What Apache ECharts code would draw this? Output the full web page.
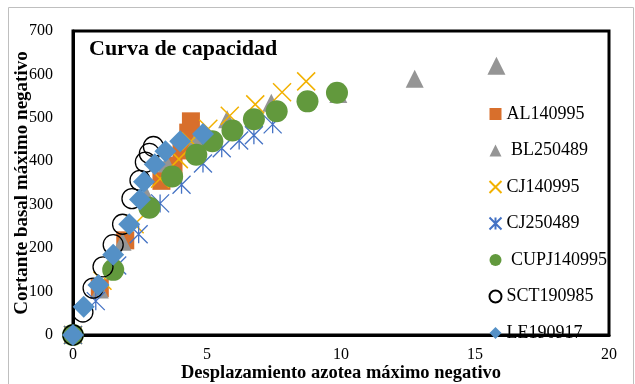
<!DOCTYPE html>
<html><head><meta charset="utf-8">
<script src="https://cdn.jsdelivr.net/npm/echarts@6/dist/echarts.min.js"></script>
<style>html,body{margin:0;padding:0;background:#fff}#c{width:635px;height:384px}</style>
</head><body><div id="c"></div>
<script>
const seriesNames = ['AL140995', ' BL250489', 'CJ140995', 'CJ250489', ' CUPJ140995', 'SCT190985', 'LE190917'];
const xTicks = [0, 5, 10, 15, 20];
const yTicks = [0, 100, 200, 300, 400, 500, 600, 700];

const AL140995 = [[0,0],[1.0,108],[1.95,218],[3.3,355],[3.75,390],[4.05,425],[4.3,466],[4.4,492]];
const BL250489 = [[0,0],[1.0,105],[1.85,215],[2.75,320],[3.5,395],[4.6,450],[5.75,497],[7.4,535],[9.9,555],[12.75,590],[15.8,620]];
const CJ140995 = [[0,0],[1.1,125],[2.3,255],[3.25,360],[3.95,405],[4.4,446],[5.05,475],[5.85,505],[6.8,531],[7.8,559],[8.7,584]];
const CJ250489 = [[0,0],[0.85,78],[1.65,160],[2.45,232],[3.25,303],[4.05,346],[4.85,395],[5.55,430],[6.2,448],[6.75,460],[7.45,485]];
const CUPJ140995 = [[0,0],[1.5,150],[2.85,293],[3.7,365],[4.6,415],[5.2,446],[5.95,471],[6.75,497],[7.6,515],[8.75,538],[9.85,558]];
const SCT190985 = [[0,0],[0.37,53],[0.75,108],[1.12,157],[1.5,208],[1.85,255],[2.2,314],[2.5,356],[2.7,398],[2.85,418],[3.0,434]];
const LE190917 = [[0,0],[0.4,65],[0.95,115],[1.5,185],[2.1,255],[2.5,312],[2.65,353],[3.05,393],[3.45,423],[4.0,446],[4.85,463]];

const FONT = '"Liberation Serif", "Times New Roman", serif';
const chart = echarts.init(document.getElementById('c'), null, {renderer: 'canvas'});

function sc(name, data, symbol, size, style) {
  style.opacity = 1;
  return { name: name, type: 'scatter', data: data, symbol: symbol, symbolSize: size, itemStyle: style, emphasis: {disabled: true} };
}

chart.setOption({
  animation: false,
  backgroundColor: '#fff',
  title: { text: 'Curva de capacidad', left: 84, top: 33,
    textStyle: { fontFamily: FONT, fontSize: 22, fontWeight: 'bold', color: '#000' } },
  grid: { left: 73, right: 26, top: 31, bottom: 49, show: true, borderColor: '#000', borderWidth: 3,
    backgroundColor: 'transparent', containLabel: false, outerBoundsMode: 'none' },
  xAxis: { type: 'value', min: xTicks[0], max: xTicks[xTicks.length-1], interval: 5,
    name: 'Desplazamiento azotea máximo negativo', nameLocation: 'middle', nameGap: 29, nameMoveOverlap: false,
    nameTextStyle: { fontFamily: FONT, fontSize: 18.5, fontWeight: 'bold', color: '#000' },
    splitLine: { show: false }, axisTick: { show: false },
    axisLine: { show: true, lineStyle: { color: '#000', width: 3 } },
    axisLabel: { margin: 12, fontFamily: FONT, fontSize: 16, color: '#000' } },
  yAxis: { type: 'value', min: yTicks[0], max: yTicks[yTicks.length-1], interval: 100,
    name: 'Cortante basal máximo negativo', nameLocation: 'middle', nameGap: 41, nameMoveOverlap: false,
    nameTextStyle: { fontFamily: FONT, fontSize: 19, fontWeight: 'bold', color: '#000' },
    splitLine: { show: false }, axisTick: { show: false },
    axisLine: { show: true, lineStyle: { color: '#000', width: 3 } },
    axisLabel: { margin: 20, fontFamily: FONT, fontSize: 16, color: '#000' } },
  legend: { orient: 'vertical', left: 482, top: 100, itemGap: 18.5, itemWidth: 12, itemHeight: 12,
    data: seriesNames,
    textStyle: { fontFamily: FONT, fontSize: 18, lineHeight: 18, color: '#000' } },
  graphic: [
    { type: 'rect', shape: { x: 8.5, y: 7.5, width: 625, height: 390 }, style: { fill: 'none', stroke: '#bfbfbf', lineWidth: 1 }, z: -1 }
  ],
  series: [
    sc(seriesNames[0], AL140995, 'rect', 18, { color: '#D86F2C' }),
    sc(seriesNames[1], BL250489, 'triangle', 18, { color: '#959595' }),
    sc(seriesNames[2], CJ140995, 'path://M0,0L10,10M10,0L0,10', 18, { color: 'none', borderColor: '#F2B100', borderWidth: 1.5 }),
    sc(seriesNames[3], CJ250489, 'path://M0,0L10,10M10,0L0,10M5,0L5,10', 18, { color: 'none', borderColor: '#4472C4', borderWidth: 1.3 }),
    sc(seriesNames[4], CUPJ140995, 'circle', 22, { color: '#62993D' }),
    sc(seriesNames[5], SCT190985, 'circle', 20, { color: 'none', borderColor: '#000', borderWidth: 1.3 }),
    sc(seriesNames[6], LE190917, 'diamond', 22, { color: '#5490C6' })
  ]
});
</script></body></html>
